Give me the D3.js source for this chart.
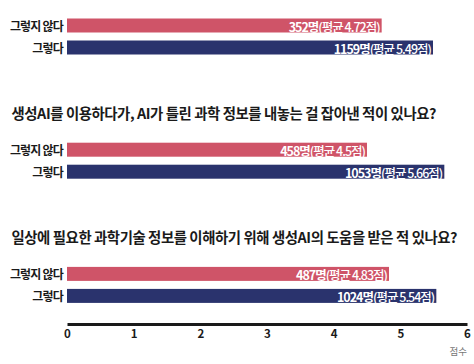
<!DOCTYPE html>
<html><head><meta charset="utf-8">
<script src="https://cdn.jsdelivr.net/npm/d3@7"></script>
<style>
html,body{margin:0;padding:0;background:#fff;}
svg{display:block;font-family:"Noto Sans CJK KR","Noto Sans",sans-serif;}
</style></head><body>
<svg id="c" width="474" height="364"></svg>
<script>
const questions = [
  "",
  "생성AI를 이용하다가, AI가 틀린 과학 정보를 내놓는 걸 잡아낸 적이 있나요?",
  "일상에 필요한 과학기술 정보를 이해하기 위해 생성AI의 도움을 받은 적 있나요?"
];
const series = ["그렇지 않다", "그렇다"];
const noCounts = [352, 458, 487];
const noMeans = [4.72, 4.5, 4.83];
const yesCounts = [1159, 1053, 1024];
const yesMeans = [5.49, 5.66, 5.54];
const xTicks = [0, 1, 2, 3, 4, 5, 6];
const axisLabel = "점수";
const colors = ["#cf5468", "#2a336d"];

const svg = d3.select("#c");
const x = d3.scaleLinear().domain([0, 6]).range([67, 467]);
const gY = d3.scaleLinear().domain([0, 1]).range([18.5, 142.7]);
const band = d3.scaleBand().domain(series).range([0, 36]).paddingInner(0.364).paddingOuter(0);

questions.forEach((q, i) => {
  const g = svg.append("g").attr("transform", `translate(0,${gY(i)})`);
  if (q) {
    g.append("text").attr("x", 11.5).attr("y", -30.5)
      .attr("dominant-baseline", "central")
      .attr("font-size", 14.4).attr("font-weight", 700).attr("fill", "#1a1a1a")
      .attr("letter-spacing", -0.43)
      .text(q);
  }
  const rows = [
    {s: series[0], n: noCounts[i], m: noMeans[i], c: colors[0]},
    {s: series[1], n: yesCounts[i], m: yesMeans[i], c: colors[1]}
  ];
  rows.forEach(r => {
    const yy = band(r.s), h = band.bandwidth();
    g.append("rect").attr("x", x(0)).attr("y", yy)
      .attr("width", x(r.m) - x(0)).attr("height", h).attr("fill", r.c);
    g.append("text").attr("x", x(0) - 4).attr("y", yy + h / 2)
      .attr("text-anchor", "end").attr("dominant-baseline", "central")
      .attr("font-size", 12).attr("font-weight", 700).attr("fill", "#1a1a1a")
      .attr("letter-spacing", -0.8)
      .text(r.s);
    const t = g.append("text").attr("x", x(r.m) - 2).attr("y", yy + h / 2 + 0.5)
      .attr("text-anchor", "end").attr("dominant-baseline", "central")
      .attr("font-size", 12.5).attr("fill", "#fff").attr("letter-spacing", -1);
    t.append("tspan").attr("font-weight", 700).text(r.n + "명");
    t.append("tspan").attr("font-weight", 500).text(`(평균 ${r.m}점)`);
  });
});

const ax = svg.append("g").attr("transform", "translate(0,324)")
  .call(d3.axisBottom(x).tickValues(xTicks).tickSize(0).tickPadding(6).tickFormat(d3.format("d")));
ax.select(".domain").attr("stroke", "#1a1a1a").attr("stroke-width", 3.2);
ax.selectAll(".tick text").attr("font-family", "'Noto Sans CJK KR','Noto Sans',sans-serif")
  .attr("font-size", 11.5).attr("font-weight", 700).attr("fill", "#1a1a1a");
svg.append("text").attr("x", 467).attr("y", 351).attr("text-anchor", "end")
  .attr("dominant-baseline", "central").attr("font-size", 9.5).attr("fill", "#777")
  .text(axisLabel);
</script></body></html>
